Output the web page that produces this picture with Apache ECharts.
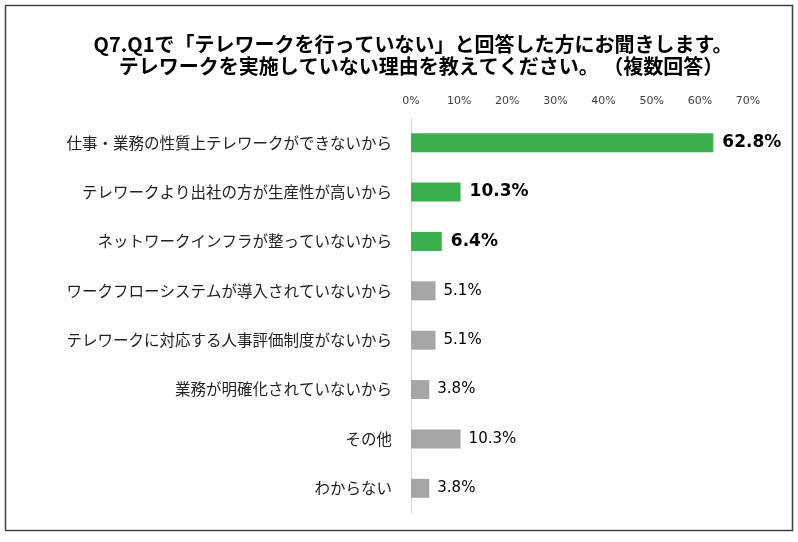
<!DOCTYPE html>
<html>
<head>
<meta charset="utf-8">
<script src="https://cdn.jsdelivr.net/npm/echarts@6/dist/echarts.min.js"></script>
<style>
  html, body { margin: 0; padding: 0; background: #fff; }
  #chart { width: 798px; height: 542px; }
</style>
</head>
<body>
<div id="chart"></div>
<script>
const categories = [
  "仕事・業務の性質上テレワークができないから",
  "テレワークより出社の方が生産性が高いから",
  "ネットワークインフラが整っていないから",
  "ワークフローシステムが導入されていないから",
  "テレワークに対応する人事評価制度がないから",
  "業務が明確化されていないから",
  "その他",
  "わからない"
];
const values = [62.8, 10.3, 6.4, 5.1, 5.1, 3.8, 10.3, 3.8];
// top 3 answers are highlighted
const highlighted = [true, true, true, false, false, false, false, false];
const tickMax = 70;
const tickStep = 10;

const numFont = '"DejaVu Sans", sans-serif';
const jpFont = '"Noto Sans CJK JP", sans-serif';

const chart = echarts.init(document.getElementById("chart"));

const titleStyle = {
  fontFamily: jpFont,
  fontSize: 20,
  fontWeight: "bold",
  color: "#000"
};

const option = {
  backgroundColor: "#fff",
  animation: false,
  graphic: [
    {
      type: "rect",
      shape: { x: 5.5, y: 5.5, width: 787, height: 525 },
      style: { fill: "none", stroke: "#404040", lineWidth: 1.5 },
      silent: true
    }
  ],
  title: [
    {
      text: "Q7.Q1で「テレワークを行っていない」と回答した方にお聞きします。",
      left: 408,
      top: 29,
      textAlign: "center",
      textStyle: titleStyle
    },
    {
      text: "テレワークを実施していない理由を教えてください。 （複数回答）",
      left: 416,
      top: 51,
      textAlign: "center",
      textStyle: titleStyle
    }
  ],
  grid: {
    left: 411,
    right: 50,
    top: 118,
    bottom: 29,
    containLabel: false
  },
  xAxis: {
    type: "value",
    position: "top",
    min: 0,
    max: tickMax,
    interval: tickStep,
    axisLine: { show: false },
    axisTick: { show: false },
    splitLine: { show: false },
    axisLabel: {
      margin: 11,
      fontFamily: numFont,
      fontSize: 11,
      color: "#404040",
      formatter: "{value}%"
    }
  },
  yAxis: {
    type: "category",
    inverse: true,
    data: categories,
    axisLine: { show: true, lineStyle: { color: "#d9d9d9", width: 1 } },
    axisTick: { show: false },
    axisLabel: {
      margin: 19,
      fontFamily: jpFont,
      fontSize: 15.5,
      color: "#222"
    }
  },
  series: [
    {
      type: "bar",
      barWidth: 19,
      data: values.map((v, i) => ({
        value: v,
        itemStyle: { color: highlighted[i] ? "#3cb04f" : "#a6a6a6" },
        label: highlighted[i]
          ? { fontSize: 17, fontWeight: "bold", color: "#000", distance: 9 }
          : { fontSize: 15, fontWeight: "normal", color: "#000", distance: 8 }
      })),
      label: {
        show: true,
        position: "right",
        fontFamily: numFont,
        formatter: (p) => p.value.toFixed(1) + "%"
      }
    }
  ]
};

chart.setOption(option);
</script>
</body>
</html>
